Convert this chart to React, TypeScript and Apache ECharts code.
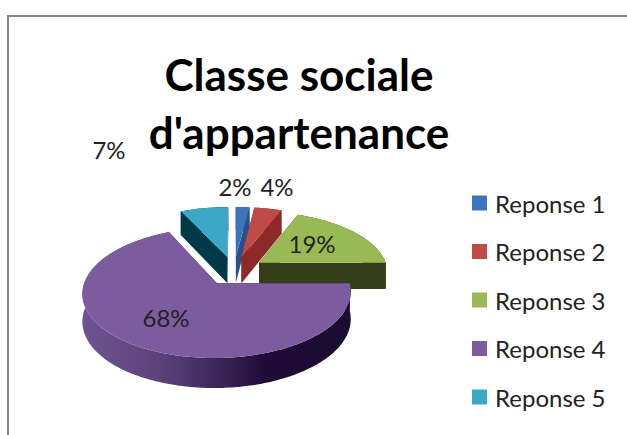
import React, { useEffect, useRef } from "react";
import * as echarts from "echarts";

const categories = ["Reponse 1", "Reponse 2", "Reponse 3", "Reponse 4", "Reponse 5"];
const values = [2, 4, 19, 68, 7];
const titleLines = ["Classe sociale", "d'appartenance"];

const topColors = ["#3c75bd", "#be4b48", "#98b954", "#7d5b9f", "#3ca8c6"];
const wallColors = ["#27528a", "#8c2a27", "#353e18", "#1c0c30", "#003948"];
const labelAnchors: [number, number][] = [[235, 186], [277, 186], [312, 243], [166, 317], [109, 149]];
const paintOrder = [4, 0, 1, 2, 3];

const FONT = "Lato, 'Open Sans', sans-serif";
const X0 = 234, Y0 = 270.7, RX = 129, RY = 60.4, K = 0.14, EXPLODE = 0.24;
const total = values.reduce((a, b) => a + b, 0);

function project(u: number, v: number) {
  const w = 1 + K * v;
  return { x: X0 + (RX * u) / w, y: Y0 - (RY * v) / w, t: 26 + (1.04 - w) * 19 };
}

function sliceGeometry(i: number, value: number) {
  const before = values.slice(0, i).reduce((a, b) => a + b, 0);
  const a0 = (before / total) * Math.PI * 2;
  const a1 = a0 + (value / total) * Math.PI * 2;
  const mid = (a0 + a1) / 2;
  const cu = EXPLODE * Math.sin(mid);
  const cv = EXPLODE * Math.cos(mid);
  const rim = [] as ReturnType<typeof project>[];
  const n = Math.max(2, Math.ceil((a1 - a0) / 0.02));
  for (let k = 0; k <= n; k++) {
    const a = a0 + ((a1 - a0) * k) / n;
    rim.push(project(cu + Math.sin(a), cv + Math.cos(a)));
  }
  return { apex: project(cu, cv), rim };
}

const up = (p: { x: number; y: number }) => [p.x, p.y];
const down = (p: { x: number; y: number; t: number }) => [p.x, p.y + p.t];

function renderSlice(i: number) {
  return (_params: unknown, api: { value: (d: number) => number }) => {
    const value = api.value(0);
    const { apex, rim } = sliceGeometry(i, value);
    const first = rim[0];
    const last = rim[rim.length - 1];
    const rimFill =
      i === 3
        ? new echarts.graphic.LinearGradient(0, 0, 1, 0, [
            { offset: 0, color: "#6f5390" },
            { offset: 0.3, color: "#5a4278" },
            { offset: 0.55, color: "#35204f" },
            { offset: 0.68, color: "#200a38" },
            { offset: 1, color: "#1c0c30" },
          ])
        : wallColors[i];
    const wall = (points: number[][], fill: unknown) => ({
      type: "polygon",
      shape: { points },
      style: { fill, stroke: null },
    });
    return {
      type: "group",
      children: [
        wall([...rim.map(up), ...rim.slice().reverse().map(down)], rimFill),
        wall([up(first), up(apex), down(apex), down(first)], wallColors[i]),
        wall([up(last), up(apex), down(apex), down(last)], wallColors[i]),
        wall([up(apex), ...rim.map(up)], topColors[i]),
        {
          type: "text",
          x: labelAnchors[i][0],
          y: labelAnchors[i][1],
          style: {
            text: `${value}%`,
            fill: "#222222",
            font: `24px ${FONT}`,
            textAlign: "center",
            textVerticalAlign: "middle",
          },
        },
      ],
    };
  };
}

export default function App() {
  const ref = useRef<HTMLDivElement>(null);
  useEffect(() => {
    const chart = echarts.init(ref.current!, undefined, { renderer: "svg" });
    chart.setOption({
      animation: false,
      backgroundColor: "#ffffff",
      title: {
        text: titleLines.join("\n"),
        left: 294,
        top: 40,
        textAlign: "center",
        textStyle: { fontFamily: FONT, fontWeight: "bold", fontSize: 44, lineHeight: 58, color: "#000000" },
      },
      legend: {
        orient: "vertical",
        left: 472,
        top: 191,
        padding: 0,
        itemWidth: 15,
        itemHeight: 15,
        itemGap: 24.5,
        icon: "rect",
        selectedMode: false,
        data: categories,
        textStyle: { fontFamily: FONT, fontSize: 24, color: "#222222", padding: [0, 0, 0, 3] },
      },
      graphic: [
        {
          type: "polyline",
          shape: { points: [[8, 435], [8, 16], [627, 16]] },
          style: { stroke: "#868686", lineWidth: 2, fill: null },
        },
      ],
      series: paintOrder.map((i) => ({
        type: "custom",
        name: categories[i],
        coordinateSystem: "none",
        silent: true,
        itemStyle: { color: topColors[i] },
        data: [[values[i]]],
        renderItem: renderSlice(i),
      })),
    });
    return () => chart.dispose();
  }, []);
  return <div ref={ref} style={{ position: "fixed", left: 0, top: 0, width: 627, height: 435 }} />;
}
